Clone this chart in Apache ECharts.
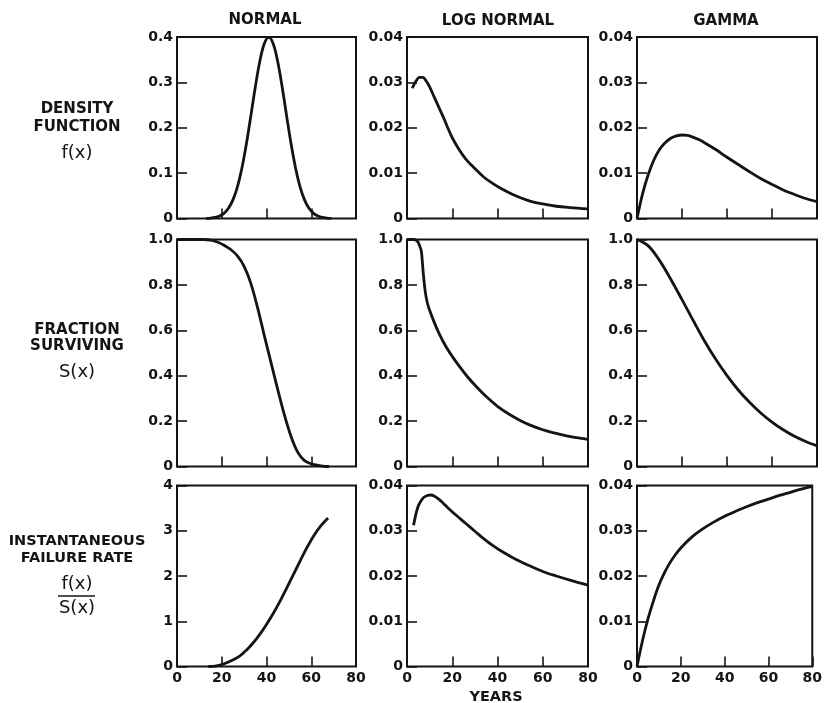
<!DOCTYPE html>
<html>
<head>
<meta charset="utf-8">
<script src="https://cdn.jsdelivr.net/npm/echarts@6/dist/echarts.min.js"></script>
<style>
html,body{margin:0;padding:0;background:#fff;}
#chart{width:825px;height:703px;}
</style>
</head>
<body>
<div id="chart"></div>
<script>
// ---- Data (years on x) ----
const columnTitles = ["NORMAL", "LOG NORMAL", "GAMMA"];
const xTicks = [0, 20, 40, 60, 80];

// NORMAL
const normalDensityX = [13, 15, 17, 19, 21, 23, 25, 27, 29, 31, 33, 35, 37, 39, 41, 43, 45, 47, 49, 51, 53, 55, 57, 59, 61, 63, 65, 67, 69];
const normalDensityY = [0.0004, 0.0010, 0.0024, 0.0054, 0.0114, 0.0224, 0.041, 0.0699, 0.1109, 0.164, 0.226, 0.290, 0.346, 0.385, 0.399, 0.385, 0.346, 0.290, 0.226, 0.164, 0.1109, 0.0699, 0.041, 0.0224, 0.0114, 0.0054, 0.0024, 0.0010, 0.0004];
const normalSurvX = [0, 12, 15, 18, 21, 24, 27, 30, 33, 36, 39, 42, 45, 48, 51, 54, 57, 60, 63, 66, 68];
const normalSurvY = [1, 1, 0.997, 0.989, 0.975, 0.956, 0.928, 0.882, 0.807, 0.700, 0.578, 0.459, 0.340, 0.227, 0.131, 0.062, 0.026, 0.012, 0.005, 0.001, 0];
const normalHazX = [14, 17, 20, 24, 28, 31, 34, 37, 40, 43, 46, 49, 52, 55, 58, 61, 64, 67.5];
const normalHazY = [0, 0.01, 0.04, 0.12, 0.23, 0.36, 0.52, 0.71, 0.93, 1.17, 1.44, 1.73, 2.03, 2.33, 2.62, 2.88, 3.09, 3.28];

// LOG NORMAL
const logDensityX = [2.3, 4, 5.5, 7, 8.5, 10, 12, 14, 16, 18, 20, 23, 26, 30, 34, 38, 42, 48, 54, 60, 66, 72, 80];
const logDensityY = [0.0287, 0.0303, 0.0311, 0.0311, 0.0303, 0.0290, 0.0268, 0.0246, 0.0224, 0.0200, 0.0178, 0.0152, 0.0131, 0.0110, 0.0091, 0.0077, 0.0065, 0.0050, 0.0039, 0.0032, 0.0027, 0.0024, 0.0021];
const logSurvX = [0, 3, 4.5, 5.5, 6.3, 6.8, 7.2, 8, 9, 10, 12, 14, 17, 20, 23, 27, 31, 35, 40, 45, 50, 55, 60, 65, 70, 75, 80];
const logSurvY = [1, 1, 0.993, 0.975, 0.95, 0.9, 0.85, 0.775, 0.72, 0.688, 0.636, 0.590, 0.532, 0.485, 0.443, 0.392, 0.348, 0.308, 0.265, 0.231, 0.203, 0.180, 0.162, 0.148, 0.136, 0.127, 0.119];
const logHazX = [2.9, 4, 5, 6.3, 7.5, 9, 10.5, 12, 14, 16, 18, 22, 26, 30, 34, 38, 42, 48, 54, 60, 66, 72, 80];
const logHazY = [0.0312, 0.0338, 0.0355, 0.0367, 0.0374, 0.0378, 0.0379, 0.0377, 0.0370, 0.0361, 0.0351, 0.0333, 0.0316, 0.0299, 0.0282, 0.0267, 0.0254, 0.0237, 0.0223, 0.0210, 0.0200, 0.0191, 0.0180];

// GAMMA
const gammaDensityX = [0, 2.5, 5, 7.5, 10, 12.5, 15, 17.5, 20, 22.5, 25, 27.5, 30, 35, 40, 45, 50, 55, 60, 65, 70, 75, 80];
const gammaDensityY = [0, 0.0055, 0.0097, 0.0129, 0.0152, 0.0167, 0.0177, 0.0182, 0.0184, 0.0183, 0.0179, 0.0174, 0.0167, 0.0152, 0.0135, 0.0119, 0.0103, 0.0088, 0.0075, 0.0063, 0.0053, 0.0044, 0.0037];
const gammaSurvX = [0, 5, 10, 15, 20, 25, 30, 35, 40, 45, 50, 55, 60, 65, 70, 75, 80];
const gammaSurvY = [1, 0.972, 0.908, 0.825, 0.735, 0.643, 0.553, 0.472, 0.400, 0.337, 0.283, 0.236, 0.196, 0.162, 0.133, 0.110, 0.091];
const gammaHazX = [0, 2.5, 5, 7.5, 10, 12.5, 15, 17.5, 20, 25, 30, 35, 40, 45, 50, 55, 60, 65, 70, 75, 80];
const gammaHazY = [0, 0.0057, 0.0105, 0.0145, 0.0180, 0.0207, 0.0229, 0.0247, 0.0262, 0.0286, 0.0304, 0.0319, 0.0332, 0.0343, 0.0353, 0.0362, 0.0370, 0.0378, 0.0385, 0.0392, 0.0398];

// ---- Layout ----
const colLeft = [177, 407, 637];
const colWidth = [179, 181, 180];
const rowTop = [37, 239.5, 485.5];
const rowHeight = [181.5, 227, 181];

const panels = [
  {r:0, c:0, xs:normalDensityX, ys:normalDensityY, ymax:0.4, yint:0.1, dec:1},
  {r:0, c:1, xs:logDensityX, ys:logDensityY, ymax:0.04, yint:0.01, dec:2},
  {r:0, c:2, xs:gammaDensityX, ys:gammaDensityY, ymax:0.04, yint:0.01, dec:2},
  {r:1, c:0, xs:normalSurvX, ys:normalSurvY, ymax:1, yint:0.2, dec:1},
  {r:1, c:1, xs:logSurvX, ys:logSurvY, ymax:1, yint:0.2, dec:1},
  {r:1, c:2, xs:gammaSurvX, ys:gammaSurvY, ymax:1, yint:0.2, dec:1},
  {r:2, c:0, xs:normalHazX, ys:normalHazY, ymax:4, yint:1, dec:0},
  {r:2, c:1, xs:logHazX, ys:logHazY, ymax:0.04, yint:0.01, dec:2},
  {r:2, c:2, xs:gammaHazX, ys:gammaHazY, ymax:0.04, yint:0.01, dec:2}
];

const INK = '#141414';
const FONT = 'DejaVu Sans';

const grid = [], xAxis = [], yAxis = [], series = [];
panels.forEach((p, i) => {
  grid.push({
    left: colLeft[p.c], top: rowTop[p.r], width: colWidth[p.c], height: rowHeight[p.r],
    show: true, borderColor: INK, borderWidth: 2, backgroundColor: '#fff'
  });
  xAxis.push({
    type: 'value', gridIndex: i, min: xTicks[0], max: xTicks[xTicks.length - 1], interval: 20,
    axisLine: {show: false},
    axisTick: {show: true, inside: true, length: 10, lineStyle: {color: INK, width: 1.6}},
    splitLine: {show: false},
    axisLabel: {show: p.r === 2, margin: 5, color: INK, fontSize: 14, fontWeight: 'bold', fontFamily: FONT}
  });
  yAxis.push({
    type: 'value', gridIndex: i, min: 0, max: p.ymax, interval: p.yint,
    axisLine: {show: false},
    axisTick: {show: true, inside: true, length: 10, lineStyle: {color: INK, width: 1.6}},
    splitLine: {show: false},
    axisLabel: {
      show: true, margin: 4, color: INK, fontSize: 14, fontWeight: 'bold', fontFamily: FONT,
      formatter: v => (Math.abs(v) < 1e-9 ? '0' : v.toFixed(p.dec))
    }
  });
  series.push({
    type: 'line', xAxisIndex: i, yAxisIndex: i,
    data: p.xs.map((x, k) => [x, p.ys[k]]),
    showSymbol: false, smooth: 0.35, silent: true,
    lineStyle: {color: INK, width: 2.8}
  });
});

function txt(text, x, y, size, weight) {
  return {type: 'text', style: {text: text, x: x, y: y, align: 'center', verticalAlign: 'middle',
    fill: INK, fontSize: size, fontWeight: weight || 'bold', fontFamily: FONT}};
}

const graphic = [
  txt(columnTitles[0], 265, 20, 15),
  txt(columnTitles[1], 498, 21, 15),
  txt(columnTitles[2], 726, 21, 15),
  txt('DENSITY', 77, 109, 15),
  txt('FUNCTION', 77, 127, 15),
  txt('f(x)', 77, 153, 18, 'normal'),
  txt('FRACTION', 77, 330, 15),
  txt('SURVIVING', 77, 346, 15),
  txt('S(x)', 77, 372, 18, 'normal'),
  txt('INSTANTANEOUS', 77, 541, 14.5),
  txt('FAILURE RATE', 77, 558, 14.5),
  txt('f(x)', 77, 584, 18, 'normal'),
  {type: 'line', shape: {x1: 58, y1: 596, x2: 95, y2: 596}, style: {stroke: INK, lineWidth: 1.6}},
  txt('S(x)', 77, 608, 18, 'normal'),
  txt('YEARS', 496, 697, 14.5)
];

const chart = echarts.init(document.getElementById('chart'), null, {renderer: 'canvas'});
chart.setOption({
  backgroundColor: '#fff',
  animation: false,
  grid: grid, xAxis: xAxis, yAxis: yAxis, series: series,
  graphic: graphic
});
</script>
</body>
</html>
